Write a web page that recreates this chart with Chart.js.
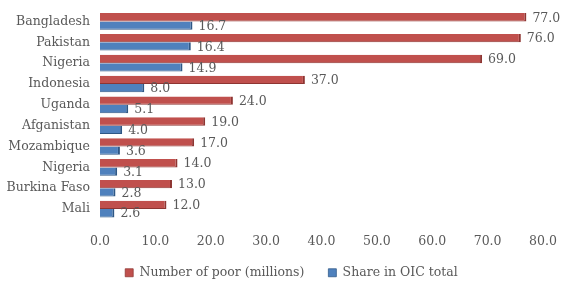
<!DOCTYPE html>
<html lang="en">
<head>
  <meta charset="UTF-8">
  <title>Poverty in OIC countries</title>
  <script src="https://cdn.jsdelivr.net/npm/chart.js"></script>
  <style>
    html, body { margin: 0; padding: 0; background: #fff; }
    canvas { display: block; }
  </style>
</head>
<body>
  <canvas id="povertyChart" width="564" height="282"></canvas>

  <script>
    var countries = ['Bangladesh', 'Pakistan', 'Nigeria', 'Indonesia', 'Uganda', 'Afganistan', 'Mozambique', 'Nigeria', 'Burkina Faso', 'Mali'];
    var numberOfPoor = [77.0, 76.0, 69.0, 37.0, 24.0, 19.0, 17.0, 14.0, 13.0, 12.0];
    var shareInOic = [16.7, 16.4, 14.9, 8.0, 5.1, 4.0, 3.6, 3.1, 2.8, 2.6];

    var textGray = '#595959';
    var fontFamily = '"DejaVu Serif", "Liberation Serif", serif';
    var fontSize = 12.5;

    // value labels to the right of each bar
    var valueLabels = {
      id: 'valueLabels',
      afterDatasetsDraw: function(chart) {
        var ctx = chart.ctx;
        ctx.save();
        ctx.fillStyle = textGray;
        ctx.font = fontSize + 'px ' + fontFamily;
        ctx.textAlign = 'left';
        ctx.textBaseline = 'middle';
        chart.data.datasets.forEach(function(ds, i) {
          var meta = chart.getDatasetMeta(i);
          meta.data.forEach(function(bar, j) {
            ctx.fillText(ds.data[j].toFixed(1), bar.x + 6, bar.y + 1);
          });
        });
        ctx.restore();
      }
    };

    // nudge the legend a bit right and up, like the original
    var legendNudge = {
      id: 'legendNudge',
      afterLayout: function(chart) {
        var lg = chart.legend;
        if (!lg) return;
        lg.left += 20; lg.right += 20;
        lg.top -= 6; lg.bottom -= 6;
      }
    };

    var ctx = document.getElementById('povertyChart').getContext('2d');
    var povertyChart = new Chart(ctx, {
      type: 'bar',
      data: {
        labels: countries,
        datasets: [{
          label: 'Number of poor (millions)',
          data: numberOfPoor,
          backgroundColor: '#C0504D',
          borderColor: '#8E3532',
          borderWidth: { top: 0, right: 2, bottom: 1, left: 0 },
          borderSkipped: false
        }, {
          label: 'Share in OIC total',
          data: shareInOic,
          backgroundColor: '#4F81BD',
          borderColor: '#2E5785',
          borderWidth: { top: 0, right: 2, bottom: 1, left: 0 },
          borderSkipped: false
        }]
      },
      options: {
        indexAxis: 'y',
        responsive: false,
        maintainAspectRatio: false,
        animation: false,
        layout: { padding: { top: 11, right: 21, bottom: -13, left: 0 } },
        datasets: { bar: { categoryPercentage: 0.8, barPercentage: 1.0 } },
        scales: {
          x: {
            min: 0,
            max: 80,
            grid: { display: false, drawTicks: false },
            border: { display: false },
            afterFit: function(scale) {
              scale.height = 29;
              scale.paddingLeft = 0;
              scale.paddingRight = 0;
            },
            ticks: {
              stepSize: 10,
              autoSkip: false,
              maxRotation: 0,
              color: textGray,
              padding: 15,
              font: { family: fontFamily, size: fontSize },
              callback: function(v) { return v.toFixed(1); }
            }
          },
          y: {
            grid: { display: false, drawTicks: false },
            border: { display: false },
            afterFit: function(scale) {
              scale.width = 100;
              scale.paddingTop = 0;
              scale.paddingBottom = 0;
            },
            ticks: {
              color: textGray,
              padding: 10,
              autoSkip: false,
              font: { family: fontFamily, size: fontSize }
            }
          }
        },
        plugins: {
          legend: {
            position: 'bottom',
            labels: {
              color: textGray,
              boxWidth: 8,
              boxHeight: 8,
              padding: 24,
              font: { family: fontFamily, size: fontSize }
            }
          },
          tooltip: { enabled: false }
        }
      },
      plugins: [valueLabels, legendNudge]
    });
  </script>
</body>
</html>
